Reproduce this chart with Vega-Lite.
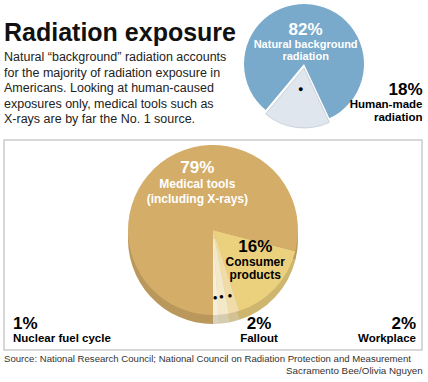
{
  "$schema": "https://vega.github.io/schema/vega-lite/v6.json",
  "background": "white",
  "padding": {"left": 3, "top": 2, "right": 4, "bottom": 2},
  "config": {"view": {"stroke": null}, "font": "Liberation Sans, sans-serif"},
  "title": {"text": "Sacramento Bee/Olivia Nguyen", "orient": "bottom", "anchor": "end", "fontSize": 9.8, "fontWeight": "normal", "color": "#333", "offset": 2},
  "spacing": 5,
  "vconcat": [
    {
      "spacing": 6,
      "hconcat": [
        {
          "width": 10,
          "height": 19,
          "title": {
            "text": "Radiation exposure",
            "subtitle": ["Natural “background” radiation accounts", "for the majority of radiation exposure in", "Americans. Looking at human-caused", "exposures only, medical tools such as", "X-rays are by far the No. 1 source."],
            "orient": "bottom",
            "anchor": "start",
            "font": "Liberation Sans",
            "fontSize": 25,
            "fontWeight": "bold",
            "color": "#111",
            "subtitleFont": "Liberation Sans",
            "subtitleFontSize": 12.5,
            "subtitleColor": "#222",
            "subtitleLineHeight": 15.5,
            "subtitlePadding": 5,
            "offset": 0
          },
          "data": {"values": [{"t": ""}]},
          "mark": "text",
          "encoding": {"text": {"field": "t"}}
        },
        {
          "width": 124,
          "height": 124,
          "data": {"values": [
            {"source": "Human-made radiation", "share": 0.18, "rank": 1, "label": ["Human-made", "radiation"]},
            {"source": "Natural background radiation", "share": 0.82, "rank": 2, "label": ["Natural background", "radiation"]}
          ]},
          "encoding": {
            "theta": {"field": "share", "type": "quantitative", "stack": true, "scale": {"range": [2.705, 8.988]}},
            "order": {"field": "rank", "type": "quantitative"}
          },
          "layer": [
            {"mark": {"type": "arc", "outerRadius": 60, "fill": "#79aacb"},
             "encoding": {"opacity": {"condition": {"test": "datum.rank === 2", "value": 1}, "value": 0}}},
            {"mark": {"type": "arc", "outerRadius": 60, "fill": "#dfe6ed", "stroke": "#b3c0cc", "strokeWidth": 0.6, "yOffset": 4},
             "encoding": {"opacity": {"condition": {"test": "datum.rank === 1", "value": 1}, "value": 0}}},
            {"mark": {"type": "text", "radius": 36, "fontSize": 17, "fontWeight": "bold", "fill": "white", "baseline": "alphabetic", "dy": 6.7, "dx": -3},
             "encoding": {"text": {"field": "share", "type": "quantitative", "format": ".0%"}, "opacity": {"condition": {"test": "datum.rank === 2", "value": 1}, "value": 0}}},
            {"mark": {"type": "text", "radius": 36, "fontSize": 11, "fontWeight": "bold", "fill": "white", "baseline": "alphabetic", "lineHeight": 12.5, "dy": 19.7, "dx": -3},
             "encoding": {"text": {"field": "label"}, "opacity": {"condition": {"test": "datum.rank === 2", "value": 1}, "value": 0}}},
            {"mark": {"type": "text", "radius": 25, "fontSize": 9, "fill": "black", "baseline": "middle"},
             "encoding": {"text": {"value": "●"}, "opacity": {"condition": {"test": "datum.rank === 1", "value": 1}, "value": 0}}},
            {"transform": [{"filter": "datum.rank === 1"}],
             "mark": {"type": "text", "radius": 0, "fontSize": 17, "fontWeight": "bold", "fill": "black", "align": "right", "baseline": "alphabetic", "dx": 118.5, "dy": 31},
             "encoding": {"text": {"field": "share", "type": "quantitative", "format": ".0%"}}},
            {"transform": [{"filter": "datum.rank === 1"}],
             "mark": {"type": "text", "radius": 0, "fontSize": 11.5, "fontWeight": "bold", "fill": "black", "align": "right", "baseline": "alphabetic", "lineHeight": 12.5, "dx": 118.5, "dy": 44},
             "encoding": {"text": {"field": "label"}}}
          ]
        }
      ]
    },
    {
      "width": 418,
      "height": 210,
      "view": {"stroke": "#cccccc", "strokeWidth": 1.5},
      "title": {"text": "Source: National Research Council; National Council on Radiation Protection and Measurement", "orient": "bottom", "anchor": "start", "fontSize": 9.6, "fontWeight": "normal", "color": "#333", "offset": 4},
      "data": {"values": [
        {"use": "Consumer products", "share": 0.16, "rank": 1, "label": ["Consumer", "products"]},
        {"use": "Workplace", "share": 0.02, "rank": 2, "label": ["Workplace"]},
        {"use": "Fallout", "share": 0.02, "rank": 3, "label": ["Fallout"]},
        {"use": "Nuclear fuel cycle", "share": 0.01, "rank": 4, "label": ["Nuclear fuel cycle"]},
        {"use": "Medical tools", "share": 0.79, "rank": 5, "label": ["Medical tools", "(including X-rays)"]}
      ]},
      "encoding": {
        "theta": {"field": "share", "type": "quantitative", "stack": true, "scale": {"range": [1.822, 8.105]}},
        "order": {"field": "rank", "type": "quantitative"}
      },
      "layer": [
        {"mark": {"type": "arc", "outerRadius": 85, "yOffset": -6},
         "encoding": {"color": {"field": "use", "type": "nominal", "legend": null, "scale": {"domain": ["Consumer products", "Workplace", "Fallout", "Nuclear fuel cycle", "Medical tools"], "range": ["#ebd07e", "#efdca8", "#f3e8c8", "#f6eed8", "#d4ad69"]}}}},
        {"mark": {"type": "arc", "outerRadius": 85, "yOffset": -6, "fill": "black", "opacity": 0.12}},
        {"mark": {"type": "arc", "outerRadius": 85, "yOffset": -15},
         "encoding": {"color": {"field": "use", "type": "nominal", "legend": null}}},
        {"mark": {"type": "text", "radius": 50, "yOffset": -15, "dx": 15, "dy": -17.5, "fontSize": 17, "fontWeight": "bold", "fill": "white", "baseline": "alphabetic"},
         "encoding": {"text": {"field": "share", "type": "quantitative", "format": ".0%"}, "opacity": {"condition": {"test": "datum.rank === 5", "value": 1}, "value": 0}}},
        {"mark": {"type": "text", "radius": 50, "yOffset": -15, "dx": 15, "dy": -2.5, "fontSize": 12, "fontWeight": "bold", "fill": "white", "baseline": "alphabetic", "lineHeight": 15},
         "encoding": {"text": {"field": "label"}, "opacity": {"condition": {"test": "datum.rank === 5", "value": 1}, "value": 0}}},
        {"mark": {"type": "text", "radius": 58, "yOffset": -15, "dy": -17.7, "fontSize": 17, "fontWeight": "bold", "fill": "black", "baseline": "alphabetic"},
         "encoding": {"text": {"field": "share", "type": "quantitative", "format": ".0%"}, "opacity": {"condition": {"test": "datum.rank === 1", "value": 1}, "value": 0}}},
        {"mark": {"type": "text", "radius": 58, "yOffset": -15, "dy": -3.7, "fontSize": 12, "fontWeight": "bold", "fill": "black", "baseline": "alphabetic", "lineHeight": 13},
         "encoding": {"text": {"field": "label"}, "opacity": {"condition": {"test": "datum.rank === 1", "value": 1}, "value": 0}}},
        {"mark": {"type": "text", "radius": 68, "yOffset": -15, "fontSize": 8, "fill": "black", "baseline": "middle"},
         "encoding": {"text": {"value": "●"}, "opacity": {"condition": {"test": "datum.rank >= 2 && datum.rank <= 4", "value": 1}, "value": 0}}},
        {"transform": [{"filter": "datum.rank === 4"}],
         "mark": {"type": "text", "radius": 0, "dx": -200, "dy": 84, "fontSize": 17, "fontWeight": "bold", "fill": "black", "align": "left", "baseline": "alphabetic"},
         "encoding": {"text": {"field": "share", "type": "quantitative", "format": ".0%"}}},
        {"transform": [{"filter": "datum.rank === 4"}],
         "mark": {"type": "text", "radius": 0, "dx": -200, "dy": 97, "fontSize": 11.5, "fontWeight": "bold", "fill": "black", "align": "left", "baseline": "alphabetic"},
         "encoding": {"text": {"field": "label"}}},
        {"transform": [{"filter": "datum.rank === 3"}],
         "mark": {"type": "text", "radius": 0, "dx": 46, "dy": 84, "fontSize": 17, "fontWeight": "bold", "fill": "black", "align": "center", "baseline": "alphabetic"},
         "encoding": {"text": {"field": "share", "type": "quantitative", "format": ".0%"}}},
        {"transform": [{"filter": "datum.rank === 3"}],
         "mark": {"type": "text", "radius": 0, "dx": 46, "dy": 97, "fontSize": 11.5, "fontWeight": "bold", "fill": "black", "align": "center", "baseline": "alphabetic"},
         "encoding": {"text": {"field": "label"}}},
        {"transform": [{"filter": "datum.rank === 2"}],
         "mark": {"type": "text", "radius": 0, "dx": 203, "dy": 84, "fontSize": 17, "fontWeight": "bold", "fill": "black", "align": "right", "baseline": "alphabetic"},
         "encoding": {"text": {"field": "share", "type": "quantitative", "format": ".0%"}}},
        {"transform": [{"filter": "datum.rank === 2"}],
         "mark": {"type": "text", "radius": 0, "dx": 203, "dy": 97, "fontSize": 11.5, "fontWeight": "bold", "fill": "black", "align": "right", "baseline": "alphabetic"},
         "encoding": {"text": {"field": "label"}}}
      ]
    }
  ]
}
